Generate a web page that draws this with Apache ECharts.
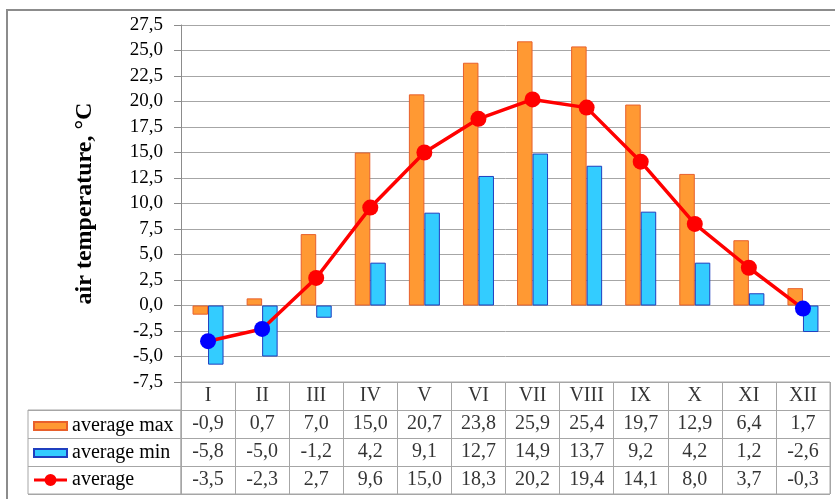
<!DOCTYPE html>
<html>
<head>
<meta charset="utf-8">
<script src="https://cdn.jsdelivr.net/npm/echarts@6/dist/echarts.min.js"></script>
<style>
html,body{margin:0;padding:0;background:#fff;}
#c{width:835px;height:499px;}
</style>
</head>
<body>
<div id="c"></div>
<script>
var months = ['I','II','III','IV','V','VI','VII','VIII','IX','X','XI','XII'];
var avgMax = [-0.9, 0.7, 7.0, 15.0, 20.7, 23.8, 25.9, 25.4, 19.7, 12.9, 6.4, 1.7];
var avgMin = [-5.8, -5.0, -1.2, 4.2, 9.1, 12.7, 14.9, 13.7, 9.2, 4.2, 1.2, -2.6];
var avgT   = [-3.5, -2.3, 2.7, 9.6, 15.0, 18.3, 20.2, 19.4, 14.1, 8.0, 3.7, -0.3];
var seriesNames = ['average max', 'average min', 'average'];
var yTitle = 'air temperature, °C';

var FONT = '"Liberation Serif", "Times New Roman", serif';
var GRID_COLOR = '#a6a6a6';
function fmt(v){ return v.toFixed(1).replace('.', ','); }

var tableCells = [];
months.forEach(function(m, i){
  tableCells.push({value:[i, 0], name: m});
  tableCells.push({value:[i, 1], name: fmt(avgMax[i])});
  tableCells.push({value:[i, 2], name: fmt(avgMin[i])});
  tableCells.push({value:[i, 3], name: fmt(avgT[i])});
});

var BAR_ICON = 'path://M0,0 M33,13 M0,2.5 L33,2.5 L33,10.5 L0,10.5 Z';
var LINE_ICON = 'path://M0,0 M33,13 M0,5 L11,5 L11,8 L0,8 Z M22,5 L33,5 L33,8 L22,8 Z M22.5,6.5 A6,6 0 1,1 10.5,6.5 A6,6 0 1,1 22.5,6.5 Z';

var chart = echarts.init(document.getElementById('c'), null, {renderer:'canvas'});
chart.setOption({
  animation: false,
  backgroundColor: '#fff',
  textStyle: {fontFamily: FONT},
  graphic: [{
    type: 'rect', silent: true, z: -1,
    shape: {x: 7, y: 10, width: 840, height: 500},
    style: {fill: 'none', stroke: '#8c8c8c', lineWidth: 2}
  }],
  legend: {
    orient: 'vertical', left: 33, top: 416, height: 100, padding: 0,
    itemWidth: 33, itemHeight: 13, itemGap: 7,
    textStyle: {fontFamily: FONT, fontSize: 20, color: '#000', lineHeight: 20},
    data: [
      {name: seriesNames[0], icon: BAR_ICON},
      {name: seriesNames[1], icon: BAR_ICON},
      {name: seriesNames[2], icon: LINE_ICON, itemStyle: {color: '#ff0000', borderWidth: 0}}
    ],
    selectedMode: false
  },
  visualMap: {
    show: false, type: 'piecewise', seriesIndex: 2, dimension: 1,
    pieces: [{gte: -100, lt: 0, color: '#0000ff'}, {gte: 0, lte: 100, color: '#ff0000'}],
    outOfRange: {color: '#ff0000'}
  },
  grid: [
    {left: 181, top: 25, width: 649, height: 357},
    {left: 181, top: 382, width: 649, height: 112, show: true, borderColor: GRID_COLOR, borderWidth: 1},
    {left: 28, top: 410, width: 153, height: 84, show: true, borderColor: GRID_COLOR, borderWidth: 1}
  ],
  xAxis: [
    {gridIndex: 0, type: 'category', data: months, boundaryGap: true,
     axisLine: {show: false}, axisTick: {show: false}, axisLabel: {show: false}, splitLine: {show: false}},
    {gridIndex: 1, type: 'category', data: months, boundaryGap: true,
     axisLine: {show: false}, axisTick: {show: false}, axisLabel: {show: false},
     splitLine: {show: true, interval: 0, lineStyle: {color: GRID_COLOR, width: 1}}},
    {gridIndex: 2, type: 'value', show: false, min: 0, max: 1}
  ],
  yAxis: [
    {gridIndex: 0, type: 'value', min: -7.5, max: 27.5, interval: 2.5,
     name: yTitle, nameLocation: 'middle', nameGap: 84, nameRotate: 90,
     nameTextStyle: {fontFamily: FONT, fontSize: 24, fontWeight: 'bold', color: '#000'},
     axisLine: {show: true, onZero: false, lineStyle: {color: '#8c8c8c', width: 1}},
     axisTick: {show: true, length: 7, lineStyle: {color: '#8c8c8c'}},
     axisLabel: {fontFamily: FONT, fontSize: 19, color: '#000', margin: 18, formatter: function(v){ return fmt(v); }},
     splitLine: {show: true, lineStyle: {color: GRID_COLOR, width: 1}}},
    {gridIndex: 1, type: 'category', data: ['0','1','2','3'], inverse: true,
     axisLine: {show: false}, axisTick: {show: false}, axisLabel: {show: false},
     splitLine: {show: true, interval: 0, lineStyle: {color: GRID_COLOR, width: 1}}},
    {gridIndex: 2, type: 'category', data: ['1','2','3'], inverse: true,
     axisLine: {show: false}, axisTick: {show: false}, axisLabel: {show: false},
     splitLine: {show: true, interval: 0, lineStyle: {color: GRID_COLOR, width: 1}}}
  ],
  series: [
    {name: seriesNames[0], type: 'bar', data: avgMax, xAxisIndex: 0, yAxisIndex: 0,
     barWidth: 15.5, barGap: '0%',
     itemStyle: {color: '#ff9933', borderColor: '#e8602c', borderWidth: 1}},
    {name: seriesNames[1], type: 'bar', data: avgMin, xAxisIndex: 0, yAxisIndex: 0,
     barWidth: 15.5, barGap: '0%',
     itemStyle: {color: '#33ccff', borderColor: '#1f3fbf', borderWidth: 1}},
    {name: seriesNames[2], type: 'line', data: avgT, xAxisIndex: 0, yAxisIndex: 0,
     symbol: 'circle', symbolSize: 16, z: 5,
     lineStyle: {width: 3.5, color: '#ff0000'},
     itemStyle: {color: '#ff0000'}},
    {type: 'scatter', xAxisIndex: 1, yAxisIndex: 1, data: tableCells,
     symbol: 'circle', symbolSize: 0, silent: true,
     label: {show: true, position: 'inside', formatter: '{b}',
             fontFamily: FONT, fontSize: 20, color: '#000'}}
  ]
});
</script>
</body>
</html>
